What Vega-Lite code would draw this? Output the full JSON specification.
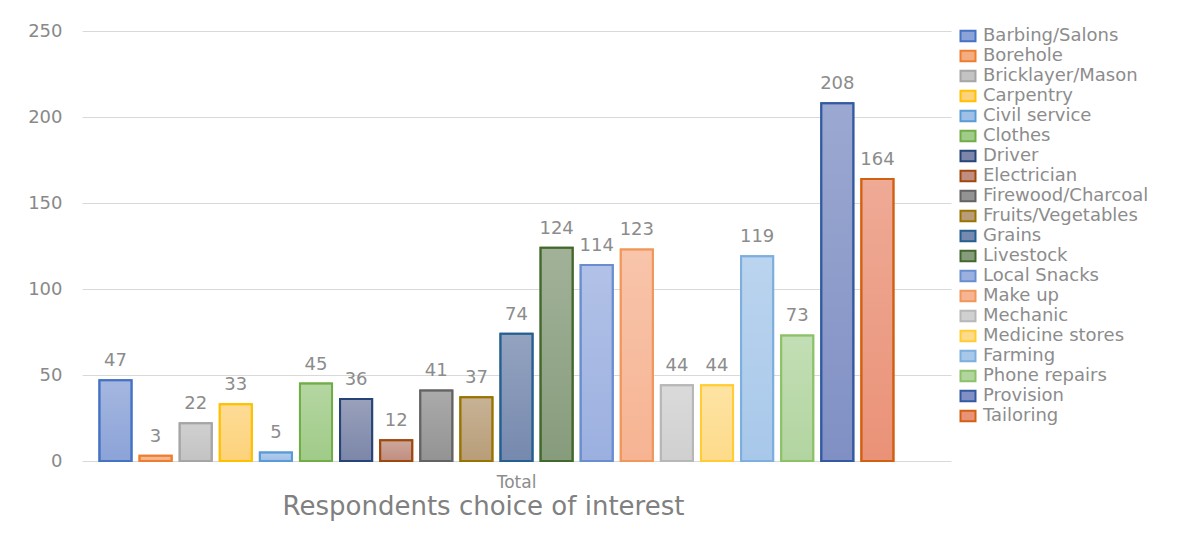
{
  "$schema": "https://vega.github.io/schema/vega-lite/v6.json",
  "width": 869,
  "height": 430,
  "autosize": {"type": "none"},
  "padding": {"left": 82, "top": 31, "right": 233, "bottom": 73},
  "background": "white",
  "config": {
    "font": "DejaVu Sans",
    "view": {"stroke": null}
  },
  "data": {
    "values": [
      {"group": "Total", "category": "Barbing/Salons", "count": 47},
      {"group": "Total", "category": "Borehole", "count": 3},
      {"group": "Total", "category": "Bricklayer/Mason", "count": 22},
      {"group": "Total", "category": "Carpentry", "count": 33},
      {"group": "Total", "category": "Civil service", "count": 5},
      {"group": "Total", "category": "Clothes", "count": 45},
      {"group": "Total", "category": "Driver", "count": 36},
      {"group": "Total", "category": "Electrician", "count": 12},
      {"group": "Total", "category": "Firewood/Charcoal", "count": 41},
      {"group": "Total", "category": "Fruits/Vegetables", "count": 37},
      {"group": "Total", "category": "Grains", "count": 74},
      {"group": "Total", "category": "Livestock", "count": 124},
      {"group": "Total", "category": "Local Snacks", "count": 114},
      {"group": "Total", "category": "Make up", "count": 123},
      {"group": "Total", "category": "Mechanic", "count": 44},
      {"group": "Total", "category": "Medicine stores", "count": 44},
      {"group": "Total", "category": "Farming", "count": 119},
      {"group": "Total", "category": "Phone repairs", "count": 73},
      {"group": "Total", "category": "Provision", "count": 208},
      {"group": "Total", "category": "Tailoring", "count": 164}
    ]
  },
  "encoding": {
    "x": {
      "field": "group",
      "type": "nominal",
      "scale": {"paddingInner": 0, "paddingOuter": 0},
      "axis": {
        "title": "Respondents choice of interest",
        "titleFontSize": 26,
        "titleFontWeight": "normal",
        "titleColor": "#808080",
        "titleX": 401,
        "titleAnchor": "middle",
        "titlePadding": 3,
        "labelAngle": 0,
        "labelFontSize": 17,
        "labelColor": "#8c8c8c",
        "labelPadding": 13,
        "domain": false,
        "ticks": false,
        "grid": false
      }
    },
    "xOffset": {
      "field": "category",
      "type": "nominal",
      "scale": {
        "domain": ["Barbing/Salons", "Borehole", "Bricklayer/Mason", "Carpentry", "Civil service", "Clothes", "Driver", "Electrician", "Firewood/Charcoal", "Fruits/Vegetables", "Grains", "Livestock", "Local Snacks", "Make up", "Mechanic", "Medicine stores", "Farming", "Phone repairs", "Provision", "Tailoring", "_spare"],
        "paddingInner": 0.2,
        "paddingOuter": 0.435
      }
    },
    "y": {
      "field": "count",
      "type": "quantitative",
      "scale": {"domain": [0, 250], "nice": false},
      "axis": {
        "title": null,
        "values": [0, 50, 100, 150, 200, 250],
        "domain": false,
        "ticks": false,
        "labelPadding": 20,
        "labelFontSize": 18,
        "labelColor": "#898989",
        "gridColor": "#d9d9d9",
        "gridWidth": 1
      }
    }
  },
  "layer": [
    {
      "mark": {"type": "bar", "strokeWidth": 2},
      "encoding": {
        "fill": {
          "field": "category",
          "type": "nominal",
          "scale": {
            "domain": ["Barbing/Salons", "Borehole", "Bricklayer/Mason", "Carpentry", "Civil service", "Clothes", "Driver", "Electrician", "Firewood/Charcoal", "Fruits/Vegetables", "Grains", "Livestock", "Local Snacks", "Make up", "Mechanic", "Medicine stores", "Farming", "Phone repairs", "Provision", "Tailoring"],
            "range": ["#8ca3d8", "#f4ad7e", "#c3c3c3", "#fdd27a", "#9fc0e6", "#a0cb88", "#7c86a8", "#c08e80", "#939393", "#b89d78", "#7689ae", "#879c7c", "#9cb0e0", "#f6b493", "#d0d0d0", "#fddb8a", "#a8c8ea", "#b2d5a0", "#8090c4", "#ea9278"]
          },
          "legend": {
            "title": null,
            "orient": "none",
            "legendX": 877,
            "legendY": -4,
            "padding": 0,
            "labelFontSize": 18,
            "labelColor": "#8c8c8c",
            "labelOffset": 6,
            "labelLimit": 400,
            "rowPadding": 0,
            "symbolType": "M-1,-0.7H1V0.7H-1Z",
            "symbolSize": 225,
            "symbolStrokeWidth": 2,
            "symbolOffset": 0
          }
        },
        "stroke": {
          "field": "category",
          "type": "nominal",
          "scale": {
            "domain": ["Barbing/Salons", "Borehole", "Bricklayer/Mason", "Carpentry", "Civil service", "Clothes", "Driver", "Electrician", "Firewood/Charcoal", "Fruits/Vegetables", "Grains", "Livestock", "Local Snacks", "Make up", "Mechanic", "Medicine stores", "Farming", "Phone repairs", "Provision", "Tailoring"],
            "range": ["#4472c4", "#ed7d31", "#a5a5a5", "#ffc000", "#5b9bd5", "#70ad47", "#264478", "#9e480e", "#636363", "#997300", "#255e91", "#43682b", "#698ed0", "#f1975a", "#b7b7b7", "#ffcd33", "#7cafdd", "#8cc168", "#335aa1", "#d26012"]
          }
        }
      }
    },
    {
      "mark": {
        "type": "bar",
        "strokeWidth": 2,
        "fill": {
          "gradient": "linear",
          "x1": 0, "y1": 0, "x2": 0, "y2": 1,
          "stops": [
            {"offset": 0, "color": "rgba(255,255,255,0.22)"},
            {"offset": 1, "color": "rgba(255,255,255,0)"}
          ]
        }
      },
      "encoding": {
        "stroke": {"field": "category", "type": "nominal"}
      }
    },
    {
      "mark": {
        "type": "text",
        "baseline": "alphabetic",
        "dy": -14,
        "fontSize": 18,
        "color": "#8c8c8c"
      },
      "encoding": {
        "text": {"field": "count", "type": "quantitative"}
      }
    }
  ]
}
